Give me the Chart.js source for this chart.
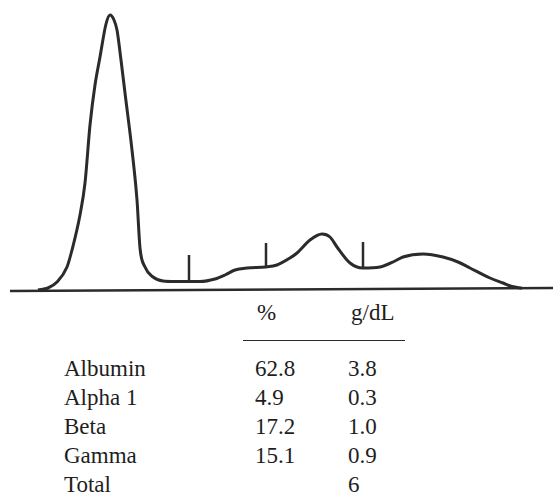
<!DOCTYPE html>
<html>
<head>
<meta charset="utf-8">
<script src="https://cdn.jsdelivr.net/npm/chart.js@4"></script>
<style>
  body { margin: 0; background: #fff; }
  #wrap { position: absolute; left: 0; top: 0; width: 553px; height: 493px; overflow: hidden; }
  #plot { position: absolute; left: 0; top: 0; width: 553px; height: 300px; }
  .t { position: absolute; font-family: "Liberation Serif", "DejaVu Serif", serif; font-size: 23px;
       line-height: 23px; color: #1e1e1e; white-space: nowrap; }
  #rule { position: absolute; left: 243px; top: 340px; width: 162px; height: 0; border-top: 1.5px solid #2a2a2a; }
</style>
</head>
<body>
<div id="wrap">
  <div id="plot"><canvas id="c"></canvas></div>
  <div id="rule"></div>
</div>
<script>
// densitometer trace (x position, height above baseline)
const traceX = [38, 48, 57, 67, 72, 80, 85, 90, 95, 100, 106, 110, 114, 117, 121, 125, 132, 137, 140, 145, 153, 163,
                175, 190, 200, 215, 225, 235, 247, 266, 277, 290, 297, 310, 322, 330, 337, 350, 363, 380, 395, 403, 423,
                443, 458, 470, 490, 503, 512, 522];
const traceY = [0, 2, 8, 23, 40, 75, 107, 165, 205, 233, 266, 275, 270, 260, 230, 197, 140, 90, 42, 23, 13, 9,
                8.5, 8.5, 8.5, 11, 15, 20, 22, 23, 25, 32, 37, 50, 56, 53, 43, 27, 22, 23, 29, 33, 36,
                33, 28, 22, 12, 7, 3.5, 1.8];

// fraction separators
const markerX = [189, 266, 363];
const markerBottom = [8.5, 23, 22];
const markerTop = [35, 47, 48];

const baselineX = [10, 553];
const baselineY = [-1, 2];

// results table
const fractions = ['Albumin', 'Alpha 1', 'Beta', 'Gamma', 'Total'];
const percent = ['62.8', '4.9', '17.2', '15.1', ''];
const gdl = ['3.8', '0.3', '1.0', '0.9', '6'];
const headers = ['%', 'g/dL'];

const ink = '#2b2b2b';

const datasets = [
    {
        data: traceX.map((x, i) => ({x: x, y: traceY[i]})),
        borderColor: ink,
        borderWidth: 3,
        pointRadius: 0,
        cubicInterpolationMode: 'monotone',
        fill: false
    },
    {
        data: baselineX.map((x, i) => ({x: x, y: baselineY[i]})),
        borderColor: ink,
        borderWidth: 2.5,
        pointRadius: 0
    }
];

markerX.forEach((x, i) => {
    datasets.push({
        data: [{x: x, y: markerBottom[i]}, {x: x, y: markerTop[i]}],
        borderColor: ink,
        borderWidth: 2.5,
        pointRadius: 0
    });
});

new Chart(document.getElementById('c'), {
    type: 'scatter',
    data: {datasets: datasets},
    options: {
        responsive: true,
        maintainAspectRatio: false,
        animation: false,
        showLine: true,
        layout: {padding: 0},
        plugins: {legend: {display: false}, tooltip: {enabled: false}},
        scales: {
            x: {type: 'linear', min: 0, max: 553, display: false},
            y: {type: 'linear', min: -10, max: 290, display: false}
        }
    }
});

// table text, placed by baseline
const wrap = document.getElementById('wrap');
const ascent = 19.3;
function put(text, x, baseline) {
    const d = document.createElement('div');
    d.className = 't';
    d.textContent = text;
    d.style.left = x + 'px';
    d.style.top = (baseline - ascent) + 'px';
    wrap.appendChild(d);
}

put(headers[0], 257, 320);
put(headers[1], 351, 320);

const rowBase = [376, 405, 434, 463, 492];
fractions.forEach((name, i) => {
    put(name, 64, rowBase[i]);
    if (percent[i]) put(percent[i], 255, rowBase[i]);
    put(gdl[i], 348, rowBase[i]);
});
</script>
</body>
</html>
